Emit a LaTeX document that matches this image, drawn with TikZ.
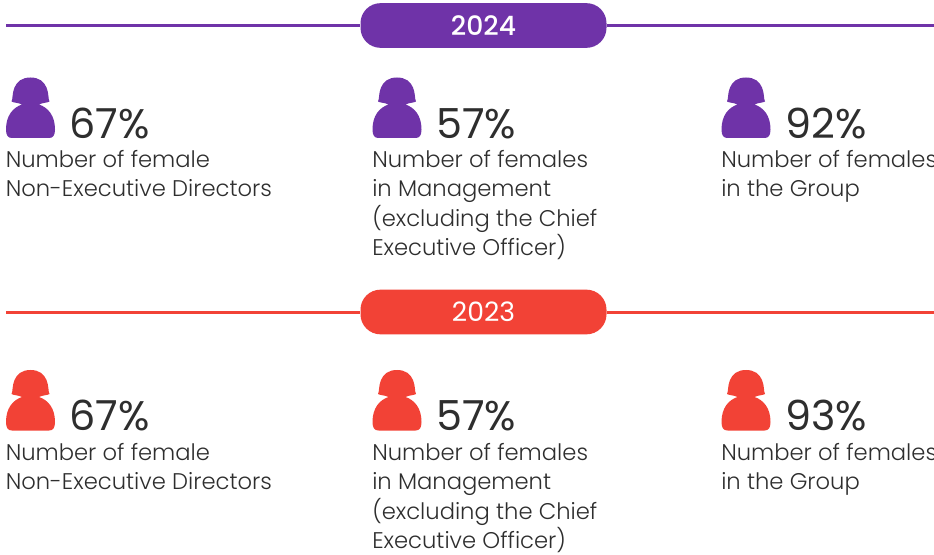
\documentclass[tikz,border=0pt]{standalone}
\usepackage{fontspec}
\setmainfont{Poppins Light}[BoldFont={Poppins}]
\newfontfamily\popreg{Poppins}
\newfontfamily\popmed{Poppins Medium}
\definecolor{pur}{HTML}{6F33A8}
\definecolor{red2}{HTML}{F24236}
\definecolor{ink}{HTML}{2E2E2E}
\tikzset{
 lbl/.style={anchor=north west,inner sep=0pt,text=ink,font=\fontsize{17pt}{21.8pt}\selectfont,align=left},
 pct/.style={anchor=base west,inner sep=0pt,text=ink,font=\popreg\fontsize{31pt}{32pt}\selectfont},
 pill/.style={rounded corners=15pt,minimum width=184.5pt,minimum height=33.5pt,inner sep=0pt,text=white,font=\popreg\fontsize{20pt}{22pt}\selectfont},
 rule/.style={line width=2.1pt}
}
\newcommand{\person}[3]{% x, y(top px), colour
 \begin{scope}[shift={(#1,#2)}]
  \fill[#3] (24.5,0) .. controls (33,0) and (38,4) .. (40.5,10)
  .. controls (43,16) and (42,21) .. (43.5,24)
  .. controls (41,25.5) and (37,25) .. (33,27)
  .. controls (42,30) and (49,38) .. (49,52)
  .. controls (49,58) and (47,60.5) .. (43,60.5)
  -- (6,60.5) .. controls (2,60.5) and (0,58) .. (0,52)
  .. controls (0,38) and (7,30) .. (16,27)
  .. controls (12,25) and (8,25.5) .. (5.5,24)
  .. controls (7,21) and (6,16) .. (8.5,10)
  .. controls (11,4) and (16,0) .. (24.5,0) -- cycle;
 \end{scope}}
\begin{document}
\begin{tikzpicture}[x=0.75pt,y=-0.75pt]
\useasboundingbox (0,0) rectangle (934,555);
% 2024
\coordinate (la) at (6,25.3); \coordinate (ra) at (934,25.3);
\node[pill,fill=pur,font=\popmed\fontsize{20pt}{22pt}\selectfont] (p24) at (483.5,25.5) {2024};
\draw[pur,rule] (la) -- (la -| p24.west);
\draw[pur,rule] (ra -| p24.east) -- (ra);
\person{6}{77.5}{pur}\person{372.5}{77.5}{pur}\person{721.5}{77.5}{pur}
\node[pct] (a1) at (69,138.5) {67\%};
\node[pct] (a2) at (436,138.5) {57\%};
\node[pct] (a3) at (785,138.5) {92\%};
\node[lbl] (b1) at (5.5,150.5) {Number of female\\Non-Executive Directors};
\node[lbl] (b2) at (372,150.5) {Number of females\\in Management\\(excluding the Chief\\Executive Officer)};
\node[lbl] (b3) at (721,150.5) {Number of females\\in the Group};
% 2023
\coordinate (lb) at (6,312.3); \coordinate (rb) at (934,312.3);
\node[pill,fill=red2] (p23) at (483.5,312) {2023};
\draw[red2,rule] (lb) -- (lb -| p23.west);
\draw[red2,rule] (rb -| p23.east) -- (rb);
\person{6}{370}{red2}\person{372.5}{370}{red2}\person{721.5}{370}{red2}
\node[pct] (c1) at (69,430.5) {67\%};
\node[pct] (c2) at (436,430.5) {57\%};
\node[pct] (c3) at (785,430.5) {93\%};
\node[lbl] (d1) at (5.5,443.5) {Number of female\\Non-Executive Directors};
\node[lbl] (d2) at (372,443.5) {Number of females\\in Management\\(excluding the Chief\\Executive Officer)};
\node[lbl] (d3) at (721,443.5) {Number of females\\in the Group};
\end{tikzpicture}
\end{document}
